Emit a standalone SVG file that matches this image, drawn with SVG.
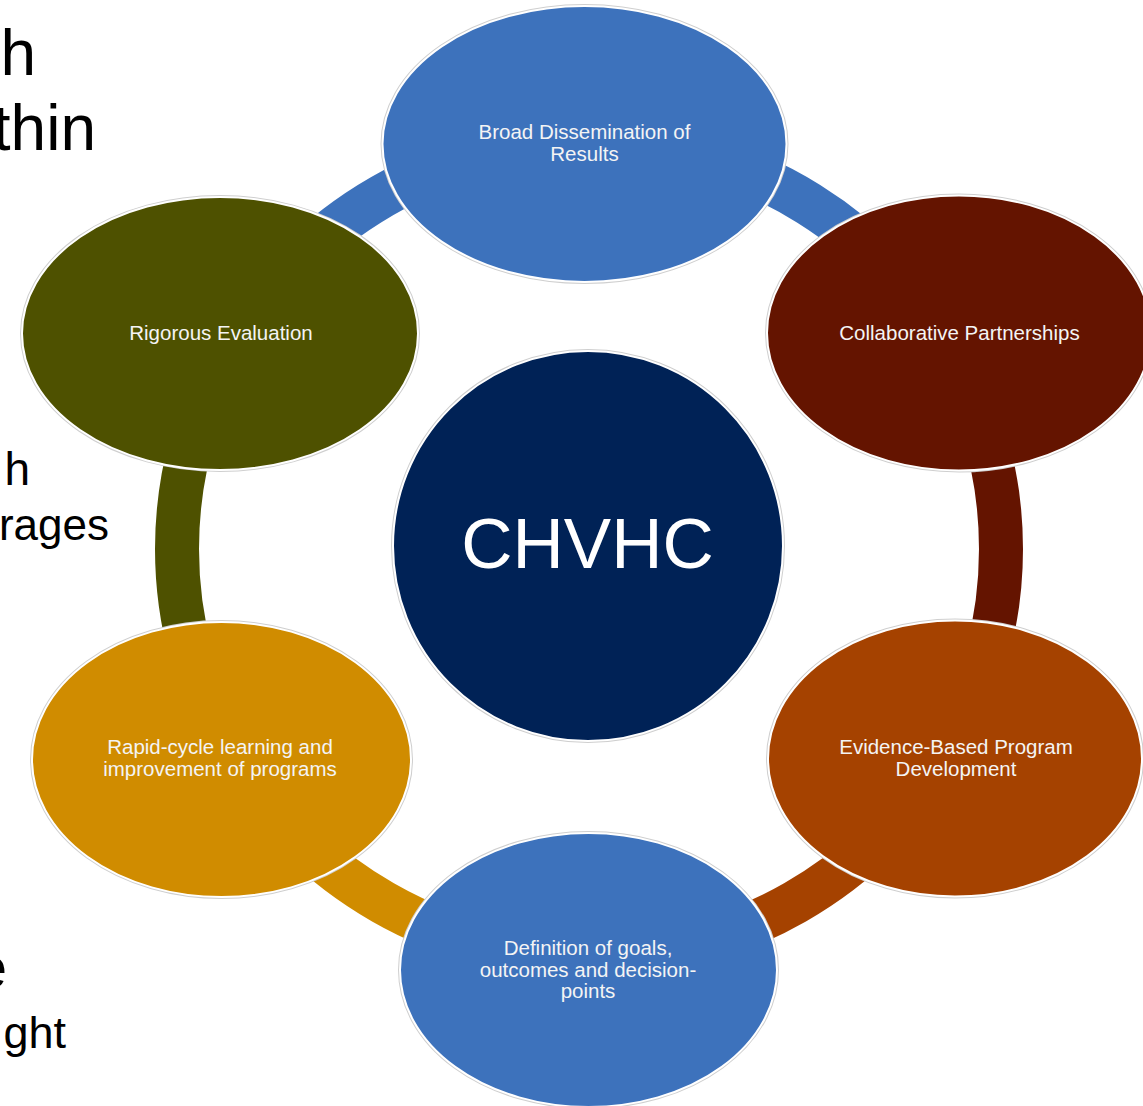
<svg xmlns="http://www.w3.org/2000/svg" width="1143" height="1106" viewBox="0 0 1143 1106">
<style>
.bg{fill:#ffffff}
.frag{font-family:"Liberation Sans",Arial,sans-serif;fill:#000;text-anchor:end}
.ring{fill:none;stroke-width:44;stroke-linecap:butt}
.halo{fill:none;stroke:#cfcfcf;stroke-width:4}
.edge{stroke:#ffffff;stroke-width:2}
.lbl{font-family:"Liberation Sans",Arial,sans-serif;font-size:20.5px;fill:#f4f4f4;text-anchor:middle}
.big{font-family:"Liberation Sans",Arial,sans-serif;font-size:71px;fill:#ffffff;text-anchor:middle}
</style>
<rect class="bg" x="0" y="0" width="1143" height="1106"/>
<g id="background-text">
<text class="frag" x="36" y="75" font-size="64">h</text>
<text class="frag" x="96" y="150" font-size="64">thin</text>
<text class="frag" x="30" y="485" font-size="46">h</text>
<text class="frag" x="109" y="540" font-size="44">rages</text>
<text class="frag" x="7" y="988" font-size="60">e</text>
<text class="frag" x="66" y="1048" font-size="45">ght</text>
</g>
<g id="connectors">
<path class="ring" stroke="#3D72BC" d="M232.2,345 A412,408 0 0 1 945.8,345"/>
<path class="ring" stroke="#641400" d="M945.8,345 A412,408 0 0 1 945.8,753"/>
<path class="ring" stroke="#A54200" d="M945.8,753 A412,408 0 0 1 589,957"/>
<path class="ring" stroke="#D08C00" d="M589,957 A412,408 0 0 1 232.2,753"/>
<path class="ring" stroke="#4E5100" d="M232.2,753 A412,408 0 0 1 232.2,345"/>
</g>
<g id="node-dissemination">
<ellipse class="halo" cx="584.5" cy="144" rx="202" ry="138"/>
<ellipse class="edge" fill="#3D72BC" cx="584.5" cy="144" rx="202" ry="138"/>
<text class="lbl" x="584.5" y="139">Broad Dissemination of</text>
<text class="lbl" x="584.5" y="161">Results</text>
</g>
<g id="node-partnerships">
<ellipse class="halo" cx="959" cy="333" rx="192" ry="137.5"/>
<ellipse class="edge" fill="#641400" cx="959" cy="333" rx="192" ry="137.5"/>
<text class="lbl" x="959.5" y="340">Collaborative Partnerships</text>
</g>
<g id="node-evidence">
<ellipse class="halo" cx="955" cy="758.5" rx="187" ry="138"/>
<ellipse class="edge" fill="#A54200" cx="955" cy="758.5" rx="187" ry="138"/>
<text class="lbl" x="956" y="754">Evidence-Based Program</text>
<text class="lbl" x="956" y="776">Development</text>
</g>
<g id="node-definition">
<ellipse class="halo" cx="588.5" cy="970" rx="188.5" ry="137"/>
<ellipse class="edge" fill="#3D72BC" cx="588.5" cy="970" rx="188.5" ry="137"/>
<text class="lbl" x="588" y="955">Definition of goals,</text>
<text class="lbl" x="588" y="977">outcomes and decision-</text>
<text class="lbl" x="588" y="998">points</text>
</g>
<g id="node-rapid">
<ellipse class="halo" cx="221.5" cy="759.5" rx="189.5" ry="137.5"/>
<ellipse class="edge" fill="#D08C00" cx="221.5" cy="759.5" rx="189.5" ry="137.5"/>
<text class="lbl" x="220" y="754">Rapid-cycle learning and</text>
<text class="lbl" x="220" y="776">improvement of programs</text>
</g>
<g id="node-evaluation">
<ellipse class="halo" cx="220" cy="333.5" rx="198" ry="136.5"/>
<ellipse class="edge" fill="#4E5100" cx="220" cy="333.5" rx="198" ry="136.5"/>
<text class="lbl" x="221" y="340">Rigorous Evaluation</text>
</g>
<g id="node-center">
<circle class="halo" cx="588" cy="546" r="195"/>
<circle class="edge" fill="#002256" cx="588" cy="546" r="195"/>
<text class="big" x="587.5" y="568">CHVHC</text>
</g>
</svg>
